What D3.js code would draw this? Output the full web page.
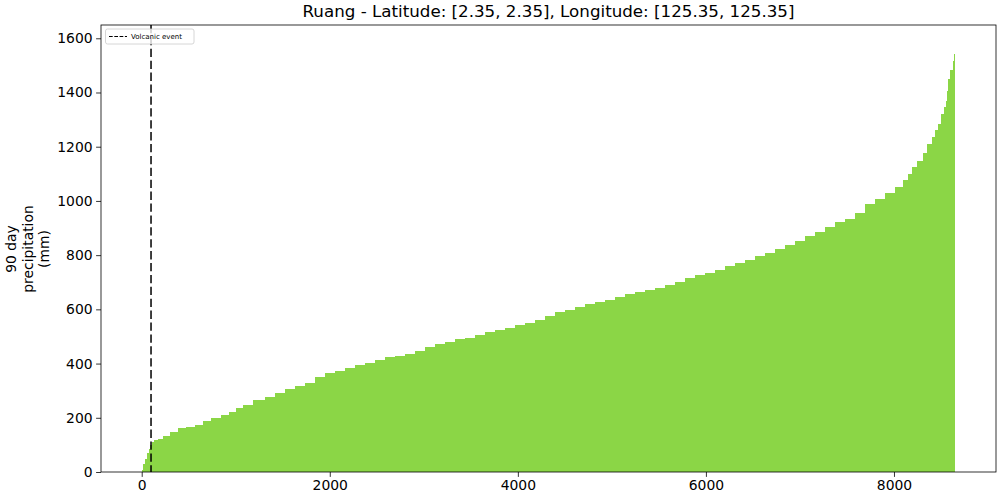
<!DOCTYPE html>
<html>
<head>
<meta charset="utf-8">
<script src="https://cdn.jsdelivr.net/npm/d3@7"></script>
<style>
  body { margin: 0; background: #fff; }
  text { font-family: "DejaVu Sans", sans-serif; }
</style>
</head>
<body>
<div id="chart"></div>
<script>
// sorted 90 day precipitation at these ranks
const ranks = [0, 25, 50, 70, 85, 99, 120, 150, 200, 263, 333, 439, 511, 617, 688, 795, 901, 954,
  1043, 1114, 1255, 1362, 1468, 1574, 1681, 1787, 1894, 2000, 2106, 2213, 2319, 2426, 2532, 2638,
  2745, 2851, 2957, 3064, 3170, 3277, 3383, 3489, 3596, 3702, 3809, 3915, 4021, 4128, 4234, 4340,
  4447, 4553, 4660, 4766, 4872, 4979, 5085, 5191, 5298, 5404, 5511, 5617, 5723, 5830, 5936, 6043,
  6149, 6255, 6362, 6468, 6574, 6681, 6787, 6894, 7000, 7106, 7213, 7319, 7426, 7532, 7638, 7745,
  7851, 7957, 8064, 8135, 8170, 8223, 8277, 8330, 8383, 8418, 8454, 8489, 8514, 8543, 8560, 8571,
  8588, 8614, 8631, 8641];
const precip = [8, 30, 48, 70, 85, 100, 112, 118, 122, 132, 148, 161, 166, 174, 189, 201, 211, 220,
  235, 247, 265, 276, 290, 305, 317, 330, 349, 364, 374, 384, 393, 403, 412, 423,
  428, 437, 447, 461, 472, 481, 489, 496, 506, 515, 523, 530, 543, 550, 562, 575,
  589, 599, 609, 621, 627, 634, 646, 656, 664, 673, 680, 691, 702, 715, 726, 735,
  747, 759, 772, 783, 796, 808, 822, 836, 853, 869, 885, 905, 921, 934, 957, 988,
  1008, 1031, 1053, 1077, 1098, 1124, 1149, 1175, 1209, 1235, 1260, 1284, 1320, 1346, 1370, 1405,
  1450, 1482, 1517, 1542];
const nDays = 8650;
const volcanicRank = 99;
const xTicks = [0, 2000, 4000, 6000, 8000];
const yTicks = [0, 200, 400, 600, 800, 1000, 1200, 1400, 1600];
const title = "Ruang - Latitude: [2.35, 2.35], Longitude: [125.35, 125.35]";

const W = 1000, H = 500;
const plot = {left: 101, right: 996, top: 25, bottom: 472};

const svg = d3.select('#chart').append('svg')
    .attr('width', W)
    .attr('height', H);

const x = d3.scaleLinear().domain([-433, 9085]).range([plot.left, plot.right]);
const y = d3.scaleLinear().domain([0, 1649]).range([plot.bottom, plot.top]);

// each read value covers the ranks halfway to its neighbours
const bars = ranks.map((r, i) => ({
    x0: i === 0 ? 0 : (ranks[i - 1] + r) / 2,
    x1: i === ranks.length - 1 ? nDays : (r + ranks[i + 1]) / 2,
    v: precip[i]
}));

svg.append('g')
    .attr('shape-rendering', 'crispEdges')
    .selectAll('rect')
    .data(bars)
    .enter()
    .append('rect')
    .attr('x', d => x(d.x0))
    .attr('width', (d, i) => x(d.x1) - x(d.x0) + (i === bars.length - 1 ? 0 : 1))
    .attr('y', d => y(d.v))
    .attr('height', d => y(0) - y(d.v))
    .attr('fill', '#8bd646');

// volcanic event marker
svg.append('line')
    .attr('x1', x(volcanicRank)).attr('x2', x(volcanicRank))
    .attr('y1', plot.top).attr('y2', plot.bottom)
    .attr('stroke', '#000')
    .attr('stroke-width', 1.5)
    .attr('stroke-dasharray', '8.3,3.6');

// axes
const xAxis = svg.append('g')
    .attr('transform', `translate(0,${plot.bottom})`)
    .call(d3.axisBottom(x).tickValues(xTicks).tickSize(4.9).tickPadding(3.5).tickFormat(d3.format('d')));
const yAxis = svg.append('g')
    .attr('transform', `translate(${plot.left},0)`)
    .call(d3.axisLeft(y).tickValues(yTicks).tickSize(4.9).tickPadding(3.5).tickFormat(d3.format('d')));

[xAxis, yAxis].forEach(a => {
    a.select('.domain').remove();
    a.selectAll('.tick line').attr('stroke', '#000').attr('stroke-width', 0.8);
    a.selectAll('.tick text').attr('fill', '#000').style('font-size', '13.9px');
});

svg.append('rect')
    .attr('x', plot.left).attr('y', plot.top)
    .attr('width', plot.right - plot.left)
    .attr('height', plot.bottom - plot.top)
    .attr('fill', 'none')
    .attr('stroke', '#000')
    .attr('stroke-width', 0.8);

// title
svg.append('text')
    .attr('x', (plot.left + plot.right) / 2)
    .attr('y', 17)
    .attr('text-anchor', 'middle')
    .style('font-size', '16.7px')
    .text(title);

// y label, three lines
const yLab = svg.append('text')
    .attr('transform', 'translate(28,249) rotate(-90)')
    .attr('text-anchor', 'middle')
    .style('font-size', '13.9px');
['90 day', 'precipitation', '(mm)'].forEach((t, i) => {
    yLab.append('tspan')
        .attr('x', 0)
        .attr('y', (i - 1) * 16.2 + 4.5)
        .text(t);
});

// legend
const leg = svg.append('g');
leg.append('rect')
    .attr('x', 105.5).attr('y', 29)
    .attr('width', 88.5).attr('height', 15)
    .attr('rx', 2)
    .attr('fill', '#fff')
    .attr('fill-opacity', 0.8)
    .attr('stroke', '#ccc')
    .attr('stroke-width', 0.8);
leg.append('line')
    .attr('x1', 109).attr('x2', 127)
    .attr('y1', 36.5).attr('y2', 36.5)
    .attr('stroke', '#000')
    .attr('stroke-width', 1)
    .attr('stroke-dasharray', '3.7,1.6');
leg.append('text')
    .attr('x', 131)
    .attr('y', 39)
    .style('font-size', '7px')
    .text('Volcanic event');
</script>
</body>
</html>
